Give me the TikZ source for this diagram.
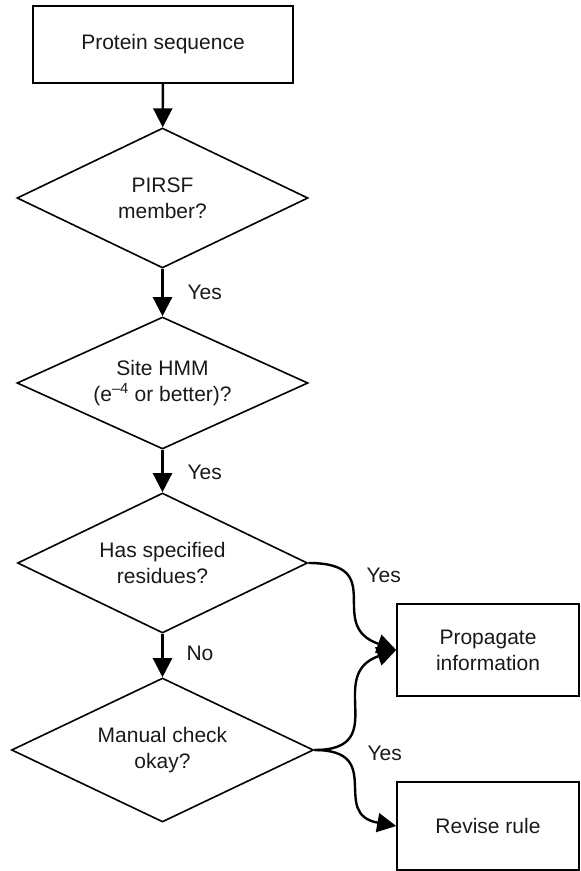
\documentclass[tikz,border=0pt]{standalone}
\usepackage{fontspec}
\setmainfont{Liberation Sans}
\usetikzlibrary{shapes.geometric,arrows.meta}
\begin{document}
\begin{tikzpicture}[x=1pt,y=-1pt,
  txt/.style={font=\fontsize{21}{26}\selectfont,text=black!90},
  box/.style={txt,draw,line width=1.6pt,inner sep=0pt,align=center},
  decision/.style={diamond,draw,line width=1.6pt,inner sep=0pt,
    minimum width=#1,label={[txt,align=center]center:\decisiontext}},
  flow/.style={line width=2.4pt,-{Triangle[length=19pt,width=19pt]}},
  lbl/.style={txt,anchor=west}
]
\useasboundingbox (0,0) rectangle (581,871);

% process boxes
\node[box,minimum width=260pt,minimum height=77pt] (seq) at (163,44.5) {Protein sequence};
\node[box,minimum width=182pt,minimum height=92pt] (prop) at (488,650) {Propagate\\information};
\node[box,minimum width=182pt,minimum height=88pt] (rev) at (488,826) {Revise rule};

% decisions: empty diamonds of fixed size, question set at the centre
\def\decisiontext{PIRSF\\member?}
\node[decision=291pt,minimum height=140pt] (pirsf) at (162.5,198) {};
\def\decisiontext{Site HMM\\(e\textsuperscript{–4} or better)?}
\node[decision=291pt,minimum height=132pt] (hmm) at (162.5,383) {};
\def\decisiontext{Has specified\\residues?}
\node[decision=290pt,minimum height=140pt] (res) at (162.5,563) {};
\def\decisiontext{Manual check\\okay?}
\node[decision=302pt,minimum height=144pt] (man) at (162.5,750) {};

% main flow
\draw[flow] (seq) -- (pirsf);
\draw[flow] (pirsf) -- (hmm);
\draw[flow] (hmm) -- (res);
\draw[flow] (res) -- (man);

\node[lbl] (y1) at (184,292) {Yes};
\node[lbl] (y2) at (184,472) {Yes};
\node[lbl] (n1) at (183,653) {No};

% side branches
\draw[flow] (res.east) .. controls +(82,0) and +(-72,-25) .. (prop.west);
\draw[flow] (man.east) .. controls +(78,0) and +(-72,25) .. (prop.west);
\draw[flow] (man.east) .. controls +(72,0) and +(-67,-12) .. (rev.west);

\node[lbl] (y3) at (363,575) {Yes};
\node[lbl] (y4) at (364,753) {Yes};
\end{tikzpicture}
\end{document}
